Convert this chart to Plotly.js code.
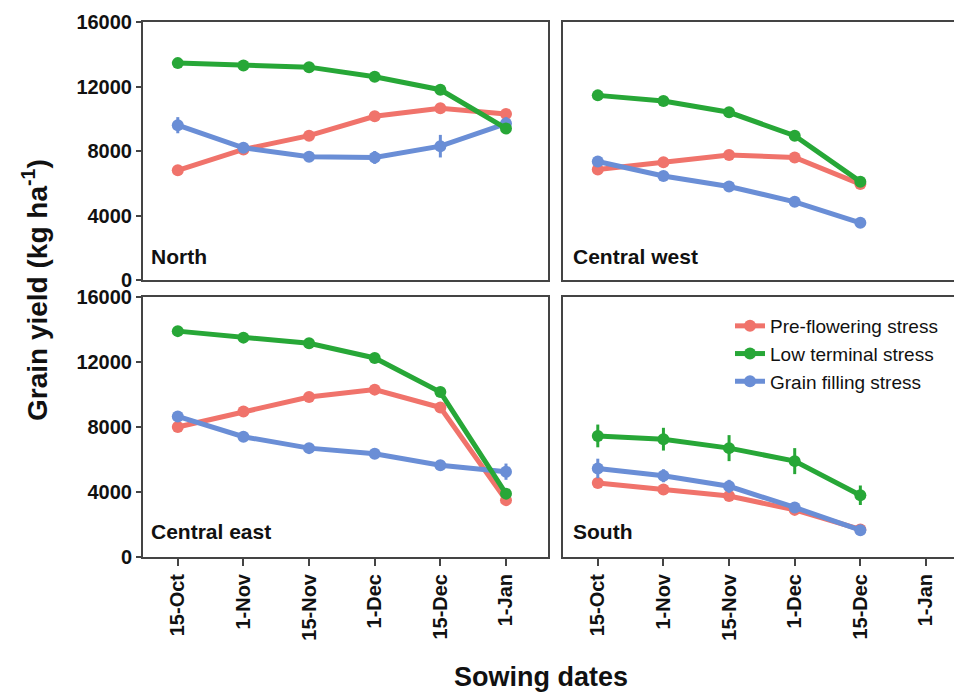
<!DOCTYPE html>
<html>
<head>
<meta charset="utf-8">
<script src="https://cdn.plot.ly/plotly-3.0.1.min.js"></script>
<style>
html,body{margin:0;padding:0;overflow:hidden;background:#fff;}
#chart{width:975px;height:693px;}
</style>
</head>
<body>
<div id="chart"></div>
<script>
// ---- data ----
const dates = ["15-Oct","1-Nov","15-Nov","1-Dec","15-Dec","1-Jan"];
const datesSouth = ["15-Oct","1-Nov","15-Nov","1-Dec","15-Dec"];
const seriesNames = ["Pre-flowering stress","Low terminal stress","Grain filling stress"];
const yTicks = [0,4000,8000,12000,16000];

const northPre   = [6800, 8100, 8950, 10150, 10650, 10300];
const northLow   = [13450, 13300, 13200, 12600, 11800, 9400];
const northGrain = [9600, 8200, 7650, 7600, 8300, 9700];
const northPreErr   = [150,150,200,200,200,150];
const northLowErr   = [150,150,150,200,300,150];
const northGrainErr = [500,200,150,400,700,400];

const cwPre   = [6850, 7300, 7750, 7600, 5950];
const cwLow   = [11450, 11100, 10400, 8950, 6100];
const cwGrain = [7350, 6450, 5800, 4850, 3550];
const cwPreErr   = [200,150,200,150,150];
const cwLowErr   = [150,150,150,150,200];
const cwGrainErr = [200,150,150,150,150];

const cePre   = [8000, 8950, 9850, 10300, 9200, 3500];
const ceLow   = [13900, 13500, 13150, 12250, 10150, 3900];
const ceGrain = [8650, 7400, 6700, 6350, 5650, 5250];
const cePreErr   = [150,150,200,250,200,150];
const ceLowErr   = [150,150,150,150,200,250];
const ceGrainErr = [200,200,200,250,300,500];

const southPre   = [4550, 4150, 3750, 2900, 1700];
const southLow   = [7450, 7250, 6700, 5900, 3800];
const southGrain = [5450, 5000, 4350, 3050, 1650];
const southPreErr   = [150,150,150,150,100];
const southLowErr   = [700,700,800,800,600];
const southGrainErr = [600,400,400,300,150];

// ---- styling ----
const colors = ["#F0736B", "#27A737", "#6A8ED6"];
const FONT = "Liberation Sans, Arial, Helvetica, sans-serif";
const W = 975, H = 693;

function mk(x, y, err, idx, xa, ya, showLegend){
  return {
    type: "scatter", mode: "lines+markers",
    x: x, y: y, xaxis: xa, yaxis: ya,
    name: seriesNames[idx], showlegend: showLegend, legendrank: idx+1,
    line: {color: colors[idx], width: 5},
    marker: {color: colors[idx], size: 12},
    error_y: {type: "data", array: err, visible: true, color: colors[idx], thickness: 3, width: 0},
    hoverinfo: "x+y+name"
  };
}

const traces = [
  mk(dates, northPre, northPreErr, 0, "x3", "y3", false),
  mk(dates, northGrain, northGrainErr, 2, "x3", "y3", false),
  mk(dates, northLow, northLowErr, 1, "x3", "y3", false),
  mk(datesSouth, cwPre, cwPreErr, 0, "x4", "y4", false),
  mk(datesSouth, cwGrain, cwGrainErr, 2, "x4", "y4", false),
  mk(datesSouth, cwLow, cwLowErr, 1, "x4", "y4", false),
  mk(dates, cePre, cePreErr, 0, "x", "y", false),
  mk(dates, ceGrain, ceGrainErr, 2, "x", "y", false),
  mk(dates, ceLow, ceLowErr, 1, "x", "y", false),
  mk(datesSouth, southPre, southPreErr, 0, "x2", "y2", true),
  mk(datesSouth, southGrain, southGrainErr, 2, "x2", "y2", true),
  mk(datesSouth, southLow, southLowErr, 1, "x2", "y2", true)
];

// panel pixel boxes
const L = [143/W, 548/W], R = [563/W, 968/W];
const T = [(H-280)/H, (H-22)/H], B = [(H-557)/H, (H-297)/H];

function xax(domain, anchor, showLabels){
  return {
    domain: domain, anchor: anchor, type: "category",
    categoryorder: "array", categoryarray: dates,
    range: [-0.53, 5.64],
    showline: true, mirror: true, linecolor: "#444", linewidth: 2,
    showgrid: false, zeroline: false,
    ticks: showLabels ? "outside" : "", ticklen: 7, tickwidth: 2, tickcolor: "#444",
    showticklabels: showLabels, tickangle: -90,
    tickvals: dates, ticktext: dates,
    tickfont: {family: FONT, size: 20, color: "#111", weight: "bold"}
  };
}
function yax(domain, anchor, showLabels){
  return {
    domain: domain, anchor: anchor,
    range: [0, 16000], tickvals: yTicks, ticktext: yTicks.map(String),
    showline: true, mirror: true, linecolor: "#444", linewidth: 2,
    showgrid: false, zeroline: false,
    ticks: showLabels ? "outside" : "", ticklen: 5, tickwidth: 2, tickcolor: "#444",
    showticklabels: showLabels,
    tickfont: {family: FONT, size: 20, color: "#111", weight: "bold"}
  };
}

function panelLabel(text, xpx, ypx){
  return {text: text, xref: "paper", yref: "paper", x: xpx/W, y: (H-ypx)/H,
          xanchor: "left", yanchor: "middle", showarrow: false,
          font: {family: FONT, size: 21, color: "#111", weight: "bold"}};
}

const layout = {
  width: W, height: H,
  margin: {l: 0, r: 0, t: 0, b: 0},
  paper_bgcolor: "#fff", plot_bgcolor: "#fff",
  showlegend: true,
  xaxis: xax(L, "y", true),   yaxis: yax(B, "x", true),
  xaxis2: xax(R, "y2", true), yaxis2: yax(B, "x2", false),
  xaxis3: xax(L, "y3", false), yaxis3: yax(T, "x3", true),
  xaxis4: xax(R, "y4", false), yaxis4: yax(T, "x4", false),
  legend: {x: 730/W, y: (H-307)/H, xanchor: "left", yanchor: "top",
           bgcolor: "rgba(0,0,0,0)", tracegroupgap: 0, itemwidth: 30,
           traceorder: "normal",
           font: {family: FONT, size: 19, color: "#111"}},
  annotations: [
    panelLabel("North", 149, 256),
    panelLabel("Central west", 571, 256),
    panelLabel("Central east", 149, 531),
    panelLabel("South", 571, 531),
    {text: "Grain yield (kg ha<sup>-1</sup>)", xref: "paper", yref: "paper",
     x: 35/W, y: (H-290)/H, xanchor: "center", yanchor: "middle", textangle: -90,
     showarrow: false, font: {family: FONT, size: 28, color: "#111", weight: "bold"}},
    {text: "Sowing dates", xref: "paper", yref: "paper",
     x: 541/W, y: (H-677)/H, xanchor: "center", yanchor: "middle",
     showarrow: false, font: {family: FONT, size: 27, color: "#111", weight: "bold"}}
  ]
};

Plotly.newPlot("chart", traces, layout, {displayModeBar: false, staticPlot: true});
</script>
</body>
</html>
